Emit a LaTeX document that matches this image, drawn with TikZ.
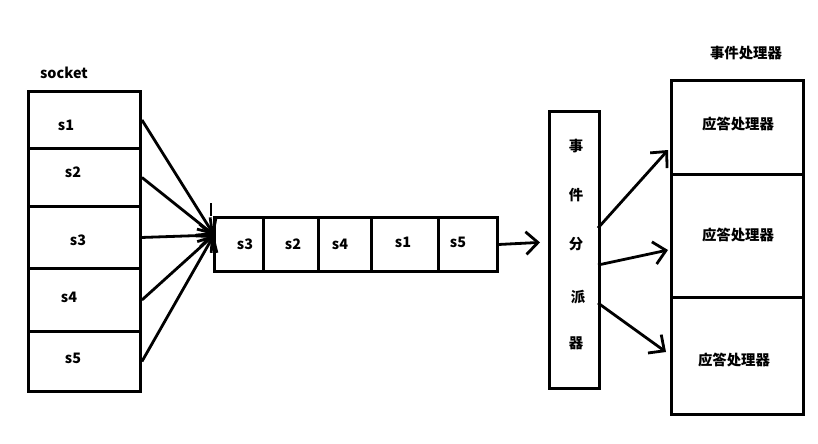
\documentclass[tikz,border=0pt]{standalone}
\usepackage{fontspec}
\setmainfont{Noto Sans CJK SC}
\usetikzlibrary{arrows.meta}
\begin{document}
\begin{tikzpicture}[x=0.75pt,y=-0.75pt,
  thick line/.style={line width=2.2pt},
  cell/.style={draw,line width=2.2pt,inner sep=0pt,anchor=north west},
  lbl/.style={font=\bfseries\fontsize{10.8}{12}\selectfont,inner sep=0pt},
  arr/.style={line width=2.1pt,-{Straight Barb[length=9pt,width=17pt,line width=2.1pt]}}]
\useasboundingbox (0,0) rectangle (818,443);
% socket column
\node[lbl] (socket) at (64,73) {socket};
\node[cell,minimum width=112*0.75pt,minimum height=57*0.75pt] (c1) at (27,90) {};
\node[cell,minimum width=112*0.75pt,minimum height=58*0.75pt] (c2) at (27,147) {};
\node[cell,minimum width=112*0.75pt,minimum height=62*0.75pt] (c3) at (27,205) {};
\node[cell,minimum width=112*0.75pt,minimum height=63*0.75pt] (c4) at (27,267) {};
\node[cell,minimum width=112*0.75pt,minimum height=60*0.75pt] (c5) at (27,330) {};
\node[lbl] (l1) at (66,125) {s1};
\node[lbl] (l2) at (73,172) {s2};
\node[lbl] (l3) at (78,240) {s3};
\node[lbl] (l4) at (69,297) {s4};
\node[lbl] (l5) at (73,358) {s5};
% queue
\node[cell,minimum width=49*0.75pt,minimum height=54*0.75pt] (q1) at (213,216) {};
\node[cell,minimum width=55*0.75pt,minimum height=54*0.75pt] (q2) at (262,216) {};
\node[cell,minimum width=53*0.75pt,minimum height=54*0.75pt] (q3) at (317,216) {};
\node[cell,minimum width=67*0.75pt,minimum height=54*0.75pt] (q4) at (370,216) {};
\node[cell,minimum width=59*0.75pt,minimum height=54*0.75pt] (q5) at (437,216) {};
\node[lbl] (m1) at (245,244) {s3};
\node[lbl] (m2) at (293,244) {s2};
\node[lbl] (m3) at (340,244) {s4};
\node[lbl] (m4) at (403,242) {s1};
\node[lbl] (m5) at (458,242) {s5};
\coordinate (qin) at (214,235);
\coordinate (qtop) at (211,203);
\coordinate (qbot) at (211,216);
\draw[thick line] (qtop) -- (qbot);
\foreach \c in {c1,c2,c3,c4,c5} \draw[arr] (\c.east) -- (qin);
% dispatcher
\node[cell,minimum width=50*0.75pt,minimum height=277*0.75pt] (disp) at (548,110) {};
\node[lbl] (d1) at (576,146) {事};
\node[lbl] (d2) at (576,195) {件};
\node[lbl] (d3) at (576,244) {分};
\node[lbl] (d4) at (578,297) {派};
\node[lbl] (d5) at (576,343) {器};
\draw[arr,shorten >=6pt] (q5.east) -- (disp.west |- 0,242);
% handlers
\node[lbl] (htitle) at (746,53) {事件处理器};
\node[cell,minimum width=132*0.75pt,minimum height=94*0.75pt] (h1) at (670,79) {};
\node[cell,minimum width=132*0.75pt,minimum height=123*0.75pt] (h2) at (670,173) {};
\node[cell,minimum width=132*0.75pt,minimum height=117*0.75pt] (h3) at (670,296) {};
\node[lbl] (hl1) at (738,124) {应答处理器};
\node[lbl] (hl2) at (738,235) {应答处理器};
\node[lbl] (hl3) at (734,360) {应答处理器};
\coordinate (a1s) at (598,228);
\coordinate (a2s) at (598,265);
\coordinate (a3s) at (598,303);
\coordinate (a1e) at (668,150);
\coordinate (a2e) at (668,250);
\coordinate (a3e) at (666,352);
\draw[arr] (a1s) -- (a1e);
\draw[arr] (a2s) -- (a2e);
\draw[arr] (a3s) -- (a3e);
\end{tikzpicture}
\end{document}
